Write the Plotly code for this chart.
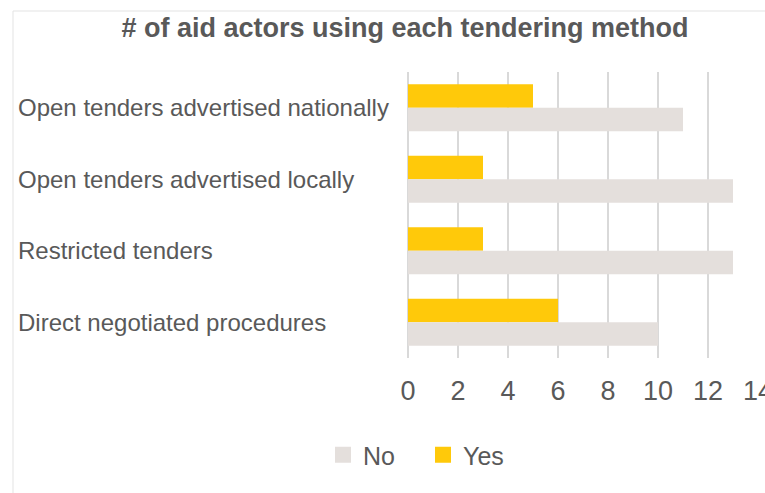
import plotly.graph_objects as go

categories = ["Open tenders advertised nationally", "Open tenders advertised locally",
              "Restricted tenders", "Direct negotiated procedures"]
yes_vals = [5, 3, 3, 6]
no_vals = [11, 13, 13, 10]
x_ticks = [0, 2, 4, 6, 8, 10, 12, 14]

W, H = 765, 493
L, R, T, B = 407, 6, 72, 135
pw, ph = W - L - R, H - T - B
x_range = [-0.04, 14.04]

FONT = "Liberation Sans"
GREY = "#595959"
YES_C = "#FFC90A"
NO_C = "#E4DFDC"
GRID_C = "#D9D9D9"

fig = go.Figure()
fig.add_trace(go.Bar(y=categories, x=yes_vals, name="Yes", orientation="h",
                     marker=dict(color=YES_C, line=dict(width=0)), showlegend=False))
fig.add_trace(go.Bar(y=categories, x=no_vals, name="No", orientation="h",
                     marker=dict(color=NO_C, line=dict(width=0)), showlegend=False))
# legend entries (square swatches)
fig.add_trace(go.Scatter(x=[None], y=[None], mode="markers", name="No",
                         marker=dict(symbol="square", size=20, color=NO_C), legendrank=1))
fig.add_trace(go.Scatter(x=[None], y=[None], mode="markers", name="Yes",
                         marker=dict(symbol="square", size=20, color=YES_C), legendrank=2))

for c in categories:
    fig.add_annotation(x=(16 - L) / pw, xref="paper", y=c, yref="y", text=c,
                       showarrow=False, xanchor="left", yanchor="middle",
                       font=dict(family=FONT, size=24, color=GREY))

# faint outer border of original chart area
fig.add_shape(type="rect", xref="paper", yref="paper",
              x0=(13 - L) / pw, x1=(W + 20 - L) / pw,
              y0=(H - B - (H + 20)) / ph, y1=(H - B - 11) / ph,
              line=dict(color="#E3E3E3", width=1), fillcolor="rgba(0,0,0,0)", layer="below")

fig.update_layout(
    width=W, height=H,
    margin=dict(l=L, r=R, t=T, b=B, pad=0, autoexpand=False),
    paper_bgcolor="white", plot_bgcolor="white",
    barmode="group", bargap=0.34, bargroupgap=0,
    title=dict(text="<b># of aid actors using each tendering method</b>",
               x=405 / W, xanchor="center", y=1 - 28 / H, yanchor="middle",
               font=dict(family=FONT, size=27, color=GREY)),
    xaxis=dict(range=x_range, tickvals=x_ticks, showgrid=True, gridcolor=GRID_C,
               gridwidth=2, zeroline=True, zerolinecolor=GRID_C, zerolinewidth=2,
               showline=False, ticks="", ticklabelstandoff=14,
               ticklabeloverflow="allow", automargin=False,
               tickfont=dict(family=FONT, size=27, color=GREY)),
    yaxis=dict(autorange="reversed", showticklabels=False, showgrid=False,
               zeroline=False, showline=False, ticks="", automargin=False),
    legend=dict(orientation="h", x=423 / W, xref="container", xanchor="center",
                y=1 - 455 / H, yref="container", yanchor="middle",
                font=dict(family=FONT, size=25, color=GREY),
                itemwidth=30, entrywidth=55, entrywidthmode="pixels",
                traceorder="normal", tracegroupgap=0),
    showlegend=True,
)

fig.write_html("out.html")
